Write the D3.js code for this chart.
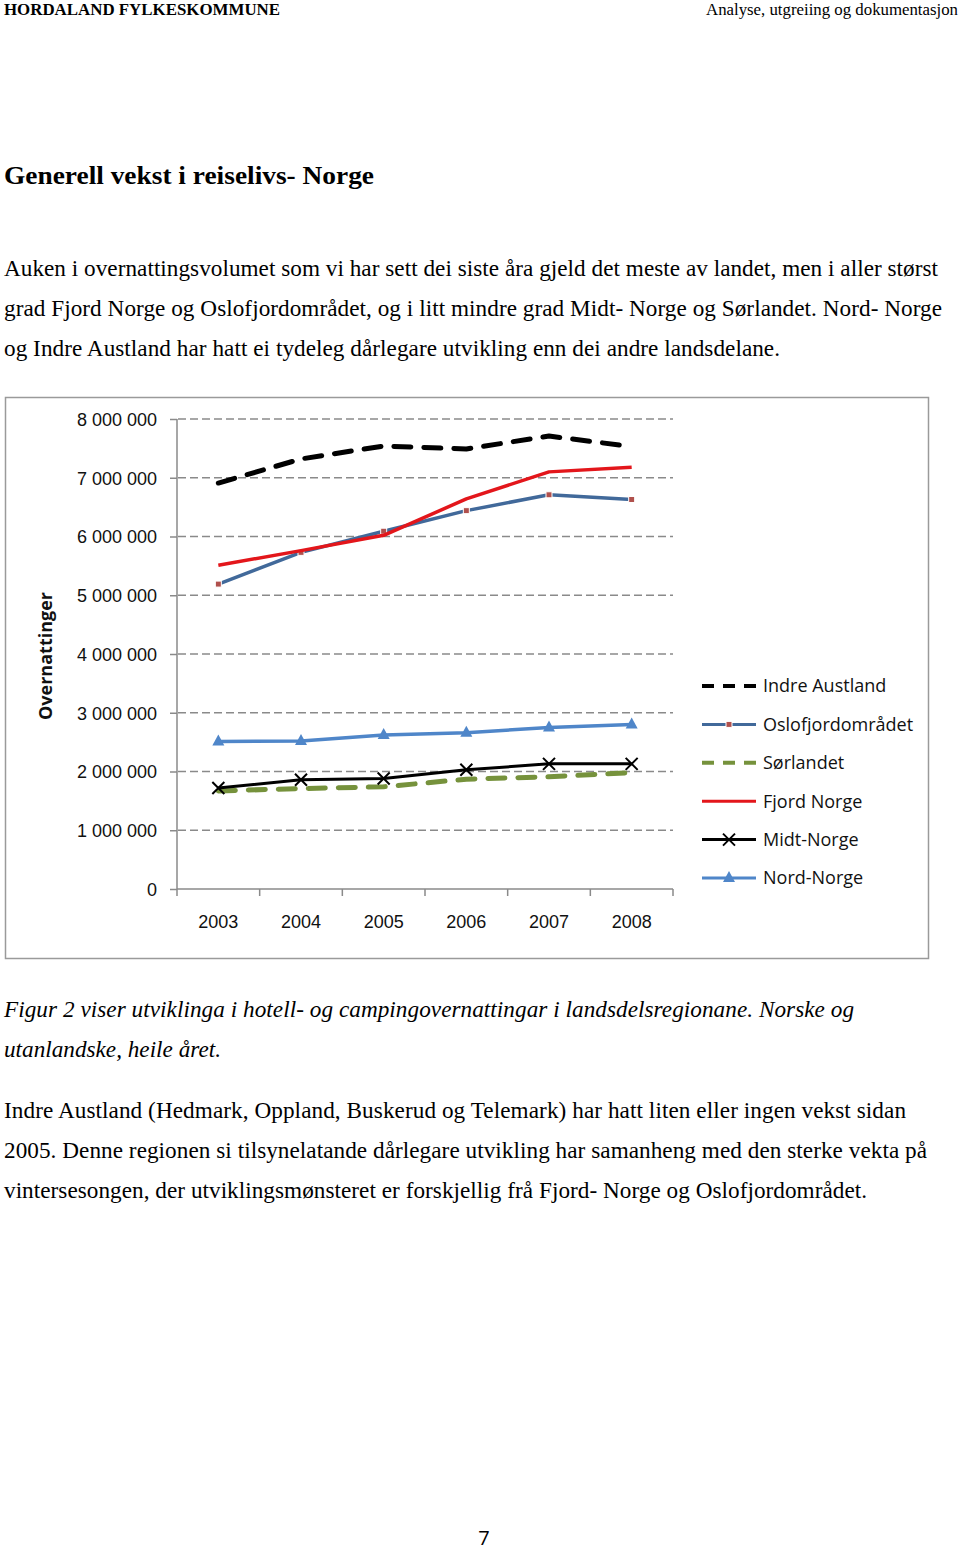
<!DOCTYPE html>
<html><head><meta charset="utf-8">
<script src="https://cdn.jsdelivr.net/npm/d3@7"></script>
<style>body{margin:0;background:#fff}</style>
</head><body>
<script>
const years = ["2003","2004","2005","2006","2007","2008"];
const indreAustland = [6910000, 7320000, 7540000, 7490000, 7710000, 7530000];
const oslofjord = [5190000, 5730000, 6090000, 6440000, 6710000, 6630000];
const sorlandet = [1670000, 1710000, 1740000, 1870000, 1910000, 1980000];
const fjordNorge = [5510000, 5760000, 6020000, 6640000, 7100000, 7180000];
const midtNorge = [1720000, 1860000, 1880000, 2030000, 2130000, 2130000];
const nordNorge = [2510000, 2520000, 2620000, 2660000, 2750000, 2800000];
const seriesNames = ["Indre Austland","Oslofjordområdet","Sørlandet","Fjord Norge","Midt-Norge","Nord-Norge"];
const yTicks = [0,1000000,2000000,3000000,4000000,5000000,6000000,7000000,8000000];

const series = [
  {name: seriesNames[0], values: indreAustland, color:"#000", width:5, dash:"17,13", marker:null},
  {name: seriesNames[1], values: oslofjord, color:"#41699A", width:3.5, dash:null, marker:"square"},
  {name: seriesNames[2], values: sorlandet, color:"#76923C", width:5, dash:"17,13", marker:null},
  {name: seriesNames[3], values: fjordNorge, color:"#E3161B", width:3.5, dash:null, marker:null},
  {name: seriesNames[4], values: midtNorge, color:"#000", width:3, dash:null, marker:"x"},
  {name: seriesNames[5], values: nordNorge, color:"#4F86C9", width:3.5, dash:null, marker:"triangle"}
];

const svg = d3.select("body").append("svg").attr("width",960).attr("height",1550)
  .style("font-family","'Liberation Serif', 'Times New Roman', serif");
svg.append("rect").attr("width",960).attr("height",1550).attr("fill","#fff");

// header
svg.append("text").attr("x",4).attr("y",15).attr("font-size",16.5).attr("font-weight","bold")
  .attr("textLength",276).attr("lengthAdjust","spacingAndGlyphs").text("HORDALAND FYLKESKOMMUNE");
svg.append("text").attr("x",958).attr("y",15).attr("font-size",16.5).attr("text-anchor","end")
  .attr("textLength",252).attr("lengthAdjust","spacingAndGlyphs")
  .text("Analyse, utgreiing og dokumentasjon");

svg.append("text").attr("x",4).attr("y",184).attr("font-size",25).attr("font-weight","bold")
  .attr("textLength",370).attr("lengthAdjust","spacingAndGlyphs").text("Generell vekst i reiselivs- Norge");

const FS = 23.2;
const body1 = [
  ["Auken i overnattingsvolumet som vi har sett dei siste åra gjeld det meste av landet, men i aller størst", 276, 934],
  ["grad Fjord Norge og Oslofjordområdet, og i litt mindre grad Midt- Norge og Sørlandet. Nord- Norge", 316, 938],
  ["og Indre Austland har hatt ei tydeleg dårlegare utvikling enn dei andre landsdelane.", 356, 776]
];
body1.forEach(([t,y,len])=>{
  svg.append("text").attr("x",4).attr("y",y).attr("font-size",FS).text(t)
    .attr("textLength",len).attr("lengthAdjust","spacing");
});

// chart frame
svg.append("rect").attr("x",5.5).attr("y",397.5).attr("width",923).attr("height",561)
  .attr("fill","#fff").attr("stroke","#9a9a9a").attr("stroke-width",1.5);

const x = d3.scaleBand().domain(years).range([177,673]).padding(0);
const y = d3.scaleLinear().domain([0,8000000]).range([889,419]);

const chart = svg.append("g").style("font-family","'Open Sans', Lato, sans-serif");

// gridlines
chart.append("g").selectAll("line").data(yTicks.filter(d=>d>0)).join("line")
  .attr("x1",178).attr("x2",673).attr("y1",d=>y(d)).attr("y2",d=>y(d))
  .attr("stroke","#8a8a8a").attr("stroke-width",1.5).attr("stroke-dasharray","8,4");

// y axis
const yAxis = d3.axisLeft(y).tickValues(yTicks).tickSize(7).tickPadding(12)
  .tickFormat(d=>d3.format(",")(d).replace(/,/g," "));
const ya = chart.append("g").attr("transform","translate(177,0)").call(yAxis);
ya.select(".domain").attr("stroke","#8a8a8a").attr("stroke-width",1.5).attr("d","M0,419V889");
ya.selectAll(".tick line").attr("stroke","#8a8a8a").attr("stroke-width",1.5);
ya.selectAll("text").attr("font-size",18).attr("fill","#111").attr("dy","0.35em").attr("x",-20);

// x axis
const xAxis = d3.axisBottom(x).tickSize(0).tickPadding(26);
const xa = chart.append("g").attr("transform","translate(0,889)").call(xAxis);
xa.select(".domain").attr("stroke","#8a8a8a").attr("stroke-width",1.5).attr("d","M177,0H673");
xa.selectAll("text").attr("font-size",18).attr("fill","#111");
chart.append("g").selectAll("line").data(years.map(d=>x(d)).concat([673])).join("line")
  .attr("x1",d=>d).attr("x2",d=>d).attr("y1",889).attr("y2",896)
  .attr("stroke","#8a8a8a").attr("stroke-width",1.5);

// y title
chart.append("text").attr("transform","translate(52,656) rotate(-90)").attr("text-anchor","middle")
  .attr("font-size",18).attr("font-weight","bold").attr("fill","#111").text("Overnattinger");

const cx = d=>x(d)+x.bandwidth()/2;
const line = d3.line().x((v,i)=>cx(years[i])).y(v=>y(v));

function drawMarker(g, type, px, py, s){
  if(type==="square"){
    g.append("rect").attr("x",px-3).attr("y",py-3).attr("width",6).attr("height",6)
      .attr("fill","#B0504C").attr("stroke","#fff").attr("stroke-width",1);
  } else if(type==="x"){
    g.append("path").attr("d",`M${px-6},${py-6}L${px+6},${py+6}M${px+6},${py-6}L${px-6},${py+6}`)
      .attr("stroke","#000").attr("stroke-width",2);
  } else if(type==="triangle"){
    g.append("path").attr("d",`M${px},${py-7}L${px+6},${py+4}L${px-6},${py+4}Z`).attr("fill",s.color);
  }
}

const order = [2,4,5,1,3,0];
order.forEach(i=>{
  const s = series[i];
  const g = chart.append("g");
  const p = g.append("path").attr("d",line(s.values)).attr("fill","none")
    .attr("stroke",s.color).attr("stroke-width",s.width).attr("stroke-linejoin","round");
  if(s.dash) p.attr("stroke-dasharray",s.dash).attr("stroke-linecap","round");
  if(s.marker) s.values.forEach((v,j)=>drawMarker(g,s.marker,cx(years[j]),y(v),s));
});

// legend
const leg = chart.append("g");
series.forEach((s,i)=>{
  const ly = 686 + i*38.4;
  const l = leg.append("line").attr("x1",702).attr("x2",756).attr("y1",ly).attr("y2",ly)
    .attr("stroke",s.color).attr("stroke-width",s.dash?4:3);
  if(s.dash) l.attr("stroke-dasharray","12,9");
  if(s.marker) drawMarker(leg,s.marker,729,ly,s);
  leg.append("text").attr("x",763).attr("y",ly).attr("dy","0.35em").attr("font-size",18).attr("fill","#111").text(s.name);
});

// caption
svg.append("text").attr("x",4).attr("y",1017).attr("font-size",FS).attr("font-style","italic")
  .attr("textLength",850).attr("lengthAdjust","spacing")
  .text("Figur 2 viser utviklinga i hotell- og campingovernattingar i landsdelsregionane. Norske og");
svg.append("text").attr("x",4).attr("y",1057).attr("font-size",FS).attr("font-style","italic")
  .attr("textLength",217).attr("lengthAdjust","spacing")
  .text("utanlandske, heile året.");

const body2 = [
  ["Indre Austland (Hedmark, Oppland, Buskerud og Telemark) har hatt liten eller ingen vekst sidan", 1118, 902],
  ["2005. Denne regionen si tilsynelatande dårlegare utvikling har samanheng med den sterke vekta på", 1158, 923],
  ["vintersesongen, der utviklingsmønsteret er forskjellig frå Fjord- Norge og Oslofjordområdet.", 1198, 863]
];
body2.forEach(([t,y,len])=>{
  svg.append("text").attr("x",4).attr("y",y).attr("font-size",FS).text(t)
    .attr("textLength",len).attr("lengthAdjust","spacing");
});

svg.append("text").attr("x",484).attr("y",1545).attr("text-anchor","middle").attr("font-size",20)
  .style("font-family","'Open Sans', sans-serif").text("7");
</script>
</body></html>
